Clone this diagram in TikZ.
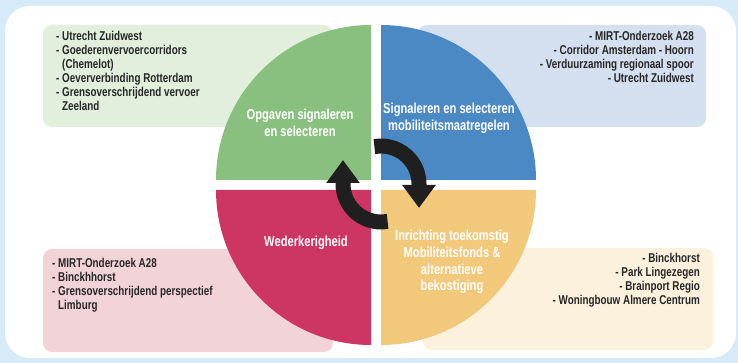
\documentclass[tikz,border=0pt]{standalone}
\usepackage{fontspec}
\setmainfont[FakeStretch=0.77]{Liberation Sans}
\usetikzlibrary{arrows.meta}
\definecolor{skyback}{HTML}{D6EAF7}
\definecolor{qgreen}{HTML}{8AC07F}
\definecolor{qblue}{HTML}{4A89C4}
\definecolor{qred}{HTML}{CD3563}
\definecolor{qyellow}{HTML}{F2C97B}
\definecolor{bgreen}{HTML}{E2EFDC}
\definecolor{bblue}{HTML}{D4E0EF}
\definecolor{bred}{HTML}{F2D4D8}
\definecolor{byellow}{HTML}{FCF1DD}
\newcommand{\hang}{\hphantom{- }}
\begin{document}
\begin{tikzpicture}[x=1pt,y=1pt,
  listbox/.style={rounded corners=9pt},
  listtext/.style={inner sep=0pt,font=\fontsize{12.8}{14}\selectfont\bfseries,text=black!85},
  quadtext/.style={align=center,text=white,font=\fontsize{14.5}{16.8}\selectfont\bfseries},
  ring/.style={line width=15pt,draw=black!88,-{Triangle[width=32pt,length=23pt]}}]
\useasboundingbox (0,0) rectangle (738,363);
\fill[skyback] (0,0) rectangle (738,363);
\fill[white,rounded corners=25pt] (5,5) rectangle (736,357);
% list boxes behind the circle
\fill[listbox,bgreen] (43,236) rectangle (333,338);
\fill[listbox,bblue] (418,236) rectangle (706,338);
\fill[listbox,bred] (43,11) rectangle (333,114);
\fill[listbox,byellow] (423,13) rectangle (713,115);
% four quarters
\fill[qgreen] (371,183) -- ++(-155,0) arc[start angle=180,end angle=90,radius=155] -- cycle;
\fill[qblue] (381,183) -- ++(0,155) arc[start angle=90,end angle=0,radius=155] -- cycle;
\fill[qred] (371,173) -- ++(0,-155) arc[start angle=270,end angle=180,radius=155] -- cycle;
\fill[qyellow] (381,173) -- ++(155,0) arc[start angle=0,end angle=-90,radius=155] -- cycle;
\node[quadtext] (opgaven) at (300,240) {Opgaven signaleren\\en selecteren};
\node[quadtext] (signaleren) at (449,245) {Signaleren en selecteren\\mobiliteitsmaatregelen};
\node[quadtext] (wederkerig) at (306,120) {Wederkerigheid};
\node[quadtext] (inrichting) at (452,101) {Inrichting toekomstig\\Mobiliteitsfonds \&\\alternatieve\\bekostiging};
% lists
\node[listtext,anchor=north west,align=left] (greenlist) at (56,332)
  {- Utrecht Zuidwest\\- Goederenvervoercorridors\\\hang(Chemelot)\\- Oeververbinding Rotterdam\\- Grensoverschrijdend vervoer\\\hang Zeeland};
\node[listtext,anchor=north east,align=right] (bluelist) at (694,332)
  {- MIRT-Onderzoek A28\\- Corridor Amsterdam - Hoorn\\- Verduurzaming regionaal spoor\\- Utrecht Zuidwest};
\node[listtext,anchor=north west,align=left] (redlist) at (52,105)
  {- MIRT-Onderzoek A28\\- Binckhhorst\\- Grensoverschrijdend perspectief\\\hang Limburg};
\node[listtext,anchor=north east,align=right] (yellowlist) at (700,110)
  {- Binckhorst\\- Park Lingezegen\\- Brainport Regio\\- Woningbouw Almere Centrum};
% circular arrows
\coordinate (hub) at (381,179);
\draw[ring] ([shift={(100:38)}]hub) arc[start angle=100,end angle=0,radius=38] -- ++(0,-24);
\draw[ring] ([shift={(280:38)}]hub) arc[start angle=280,end angle=180,radius=38] -- ++(0,24);
\end{tikzpicture}
\end{document}
